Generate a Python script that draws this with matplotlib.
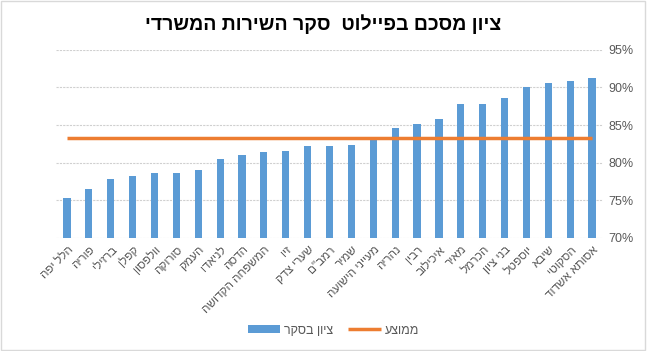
import numpy as np
import matplotlib
matplotlib.use("Agg")
import matplotlib.pyplot as plt
from matplotlib.patches import Rectangle
from matplotlib.ticker import PercentFormatter

plt.rcParams["font.family"] = ["Liberation Sans", "DejaVu Sans"]

title = "ציון מסכם בפיילוט  סקר השירות המשרדי"
hospitals = [
    "הלל יפה", "פוריה", "ברזילי", "קפלן", "וולפסון", "סורוקה", "העמק",
    "לניאדו", "הדסה", "המשפחה הקדושה", "זיו", "שערי צדק", 'רמב"ם', "שמיר",
    "מעייני הישועה", "נהריה", "רבין", "איכילוב", "מאיר", "הכרמל",
    "בני ציון", "יוספטל", "שיבא", "הסקוטי", "אסותא אשדוד",
]
scores = [75.3, 76.5, 77.8, 78.2, 78.6, 78.6, 79.0, 80.5, 81.0, 81.4, 81.5,
          82.2, 82.2, 82.4, 83.2, 84.6, 85.2, 85.8, 87.8, 87.8, 88.6, 90.1,
          90.6, 90.8, 91.3]
average = 83.3
bar_label = "ציון בסקר"
avg_label = "ממוצע"

BLUE = "#5B9BD5"
ORANGE = "#ED7D31"
GREY = "#595959"


def vis(s):
    # matplotlib has no bidi support, so flip RTL text to visual order
    return s[::-1]


fig = plt.figure(figsize=(6.47, 3.51), dpi=100)
ax = fig.add_axes([0.0866, 0.322, 0.8454, 0.536])

x = np.arange(len(hospitals))
bars = ax.bar(x, scores, width=0.33, color=BLUE, zorder=3)
line, = ax.plot(x, [average] * len(x), color=ORANGE, lw=2.5, zorder=4,
                solid_capstyle="butt")

ax.set_xlim(-0.5, len(x) - 0.5)
ax.set_ylim(70, 95)
ax.set_yticks(np.arange(70, 96, 5))
ax.yaxis.set_major_formatter(PercentFormatter(decimals=0))
ax.yaxis.tick_right()
ax.tick_params(axis="y", length=0, labelsize=9, colors=GREY, pad=4)
ax.grid(axis="y", color="#D0D0D0", lw=0.8, linestyle=(0, (2, 1)), zorder=0)

ax.set_xticks(x)
ax.set_xticklabels([vis(h) for h in hospitals], rotation=45, ha="right",
                   rotation_mode="anchor", fontsize=8.5, color=GREY)
ax.tick_params(axis="x", length=0, pad=4)

for sp in ax.spines.values():
    sp.set_visible(False)

fig.text(0.5, 0.932, vis(title), ha="center", va="center", fontsize=14,
         fontweight="bold", color="#000000")

leg = fig.legend([bars, line], [vis(bar_label), vis(avg_label)],
                 loc="center", bbox_to_anchor=(0.515, 0.058), ncol=2,
                 frameon=False, fontsize=9, handlelength=2.6,
                 handleheight=0.6, handletextpad=0.3, columnspacing=1.2)
for t in leg.get_texts():
    t.set_color(GREY)

fig.patches.append(Rectangle((0.002, 0.003), 0.995, 0.994,
                             transform=fig.transFigure, fill=False,
                             edgecolor="#D9D9D9", lw=1))

fig.savefig("out.png", dpi=100)
